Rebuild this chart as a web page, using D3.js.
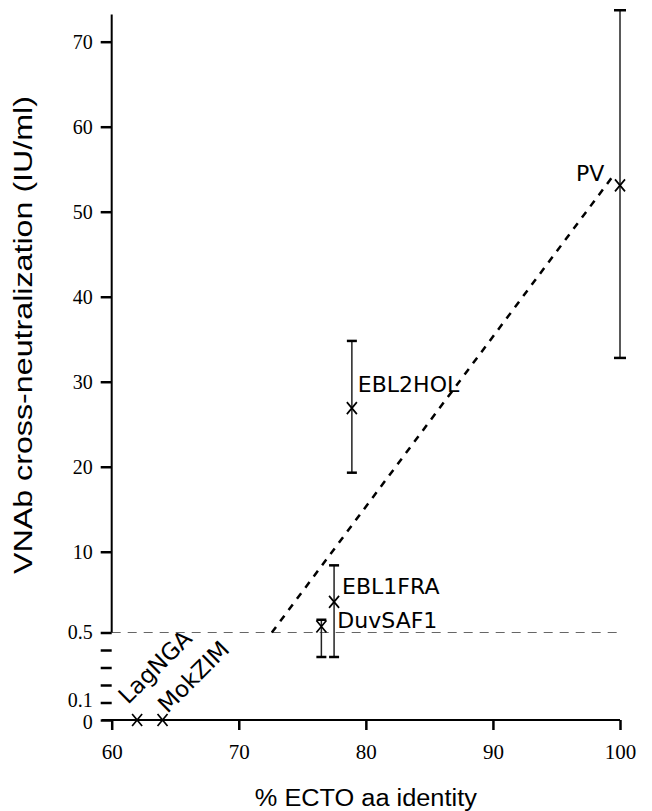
<!DOCTYPE html>
<html><head><meta charset="utf-8">
<script src="https://cdn.jsdelivr.net/npm/d3@7"></script>
<style>body{margin:0;background:#fff}</style>
</head><body>
<svg id="chart" width="652" height="811"></svg>
<script>
// ---- data ----
const names    = ["LagNGA","MokZIM","DuvSAF1","EBL1FRA","EBL2HOL","PV"];
const identity = [62, 64, 76.5, 77.5, 78.9, 100];
const vnab     = [0, 0, 1.2, 4.1, 26.9, 53.1];
const lower    = [null, null, 0.36, 0.36, 19.3, 32.8];
const upper    = [null, null, 2.0, 8.4, 34.8, 73.7];
const fitX     = [72.6, 99.6];
const fitY     = [0.5, 54.5];
const xTicks   = [60, 70, 80, 90, 100];
const yTicks   = [0, 0.1, 0.2, 0.3, 0.4, 0.5, 10, 20, 30, 40, 50, 60, 70];
const yLabels  = ["0","0.1","","","","0.5","10","20","30","40","50","60","70"];
const xTitle   = "% ECTO aa identity";
const yTitle   = "VNAb cross-neutralization (IU/ml)";

// ---- layout ----
const svg = d3.select("#chart");
const x = d3.scaleLinear().domain([60, 100]).range([111.7, 620]);
const y = d3.scaleLinear().domain([0, 0.5, 70]).range([720, 632.5, 41.7]);
const serif = "'Liberation Serif','DejaVu Serif','Times New Roman',serif";
const sans = "'Liberation Sans',Arial,sans-serif";
const labFont = "'DejaVu Sans',sans-serif";

// reference dashed line at 0.5
svg.append("line")
  .attr("x1", x(60)).attr("x2", x(100))
  .attr("y1", y(0.5)).attr("y2", y(0.5))
  .attr("stroke", "#666").attr("stroke-width", 1)
  .attr("stroke-dasharray", "9,7");

// x axis
const xAxis = svg.append("g").attr("transform", `translate(0,${y(0)})`)
  .call(d3.axisBottom(x).tickValues(xTicks).tickSize(10).tickPadding(14).tickFormat(d3.format("d")));
xAxis.attr("font-family", null).attr("font-size", null);
xAxis.select(".domain").remove();
xAxis.selectAll(".tick line").attr("stroke", "#000").attr("stroke-width", 2.5);
xAxis.selectAll(".tick text").style("font-family", serif).style("font-size", "21px").attr("fill", "#000");
svg.append("line").attr("x1", 102).attr("x2", x(100)).attr("y1", y(0)).attr("y2", y(0))
  .attr("stroke", "#000").attr("stroke-width", 2);

// y axis
const yAxis = svg.append("g").attr("transform", `translate(${x(60)},0)`)
  .call(d3.axisLeft(y).tickValues(yTicks).tickSize(11).tickPadding(8)
    .tickFormat((d, i) => yLabels[i]));
yAxis.attr("font-family", null).attr("font-size", null);
yAxis.select(".domain").remove();
yAxis.selectAll(".tick line").attr("stroke", "#000").attr("stroke-width", 2.5);
yAxis.selectAll(".tick text").style("font-family", serif).style("font-size", "20px").attr("fill", "#000");
yAxis.selectAll(".tick text").filter(d => d === 0.1).attr("dy", "0.2em");
yAxis.selectAll(".tick text").filter(d => d === 0).attr("dy", "0.4em");
svg.append("line").attr("x1", x(60)).attr("x2", x(60))
  .attr("y1", y(0.5)).attr("y2", y(73.2))
  .attr("stroke", "#000").attr("stroke-width", 2);

// titles
svg.append("text").attr("x", (x(60) + x(100)) / 2).attr("y", 806)
  .attr("text-anchor", "middle").style("font-family", sans).style("font-size", "23px")
  .attr("textLength", 222).attr("lengthAdjust", "spacingAndGlyphs")
  .text(xTitle);
svg.append("text").attr("transform", "translate(32,335) rotate(-90)")
  .attr("text-anchor", "middle").style("font-family", sans).style("font-size", "25px")
  .attr("textLength", 478).attr("lengthAdjust", "spacingAndGlyphs")
  .text(yTitle);

// fit line
svg.append("path")
  .datum(fitX.map((v, i) => [v, fitY[i]]))
  .attr("d", d3.line().x(d => x(d[0])).y(d => y(d[1])))
  .attr("fill", "none").attr("stroke", "#000").attr("stroke-width", 2.5)
  .attr("stroke-dasharray", "7,7");

// points
const pts = names.map((n, i) => ({n, x: identity[i], y: vnab[i], lo: lower[i], hi: upper[i]}));
const eb = svg.append("g");
pts.filter(d => d.lo !== null).forEach(d => {
  const cx = x(d.x), cw = d.n === "PV" ? 6 : 5;
  eb.append("line").attr("x1", cx).attr("x2", cx).attr("y1", y(d.lo)).attr("y2", y(d.hi))
    .attr("stroke", "#222").attr("stroke-width", 1.5);
  [d.lo, d.hi].forEach(v => eb.append("line")
    .attr("x1", cx - cw).attr("x2", cx + cw).attr("y1", y(v)).attr("y2", y(v))
    .attr("stroke", "#000").attr("stroke-width", 2.5));
});
svg.append("g").selectAll("path").data(pts).join("path")
  .attr("transform", d => `translate(${x(d.x)},${y(d.y)})`)
  .attr("d", "M-5,-6L5,6M-5,6L5,-6")
  .attr("stroke", "#000").attr("stroke-width", 1.7).attr("fill", "none");

// labels
const off = {
  LagNGA: [-9, -15, -45, 23], MokZIM: [5, -6, -45, 23], DuvSAF1: [16, 1, 0, 22],
  EBL1FRA: [8, -8, 0, 22], EBL2HOL: [6, -16, 0, 22], PV: [-44, -4, 0, 22]
};
svg.append("g").selectAll("text").data(pts).join("text")
  .attr("transform", d => {
    const o = off[d.n];
    return `translate(${x(d.x) + o[0]},${y(d.y) + o[1]}) rotate(${o[2]})`;
  })
  .style("font-family", labFont).style("font-size", d => off[d.n][3] + "px").attr("fill", "#000")
  .text(d => d.n);
</script>
</body></html>
